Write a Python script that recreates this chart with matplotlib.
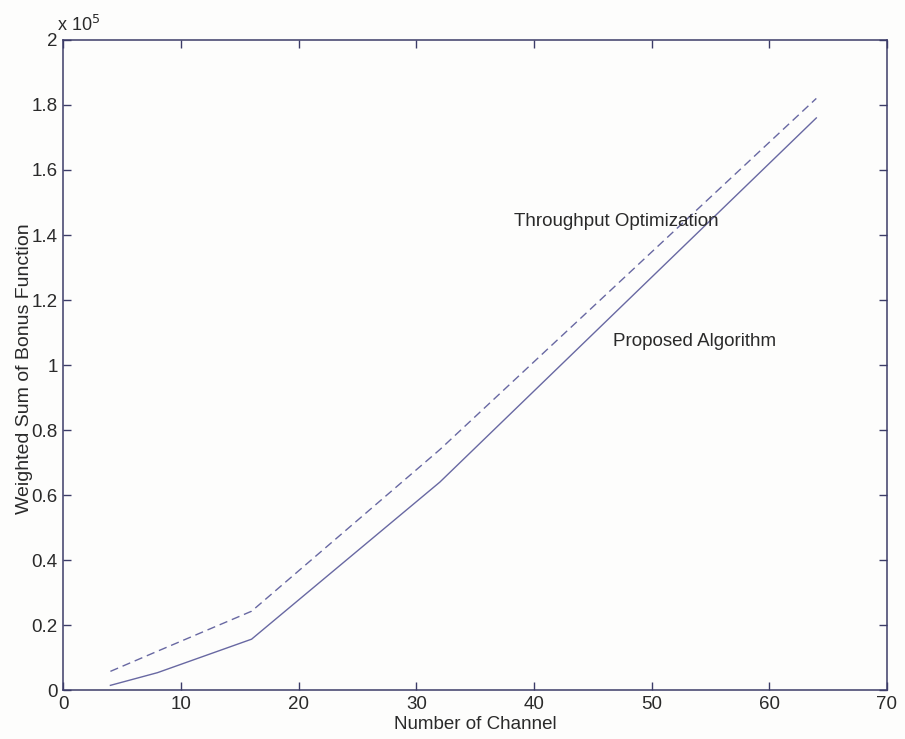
import matplotlib
matplotlib.use("Agg")
import matplotlib.pyplot as plt
from matplotlib.ticker import FuncFormatter

# Number of channels and weighted bonus-function sums
channels = [4, 8, 16, 32, 64]
proposed = [1500, 5400, 15700, 64000, 176000]
throughput_opt = [5800, 12000, 24300, 74000, 182000]

x_ticks = [0, 10, 20, 30, 40, 50, 60, 70]
y_ticks = [0, 20000, 40000, 60000, 80000, 100000, 120000, 140000, 160000, 180000, 200000]

line_color = "#6868a2"
axis_color = "#3c3c68"
text_color = "#2a2a2a"

plt.rcParams["font.family"] = ["Liberation Sans", "DejaVu Sans"]

fig = plt.figure(figsize=(9.05, 7.39), dpi=100, facecolor="#fdfdfc")
ax = fig.add_axes([0.070, 0.066, 0.910, 0.880])
ax.set_facecolor("#fdfdfc")

ax.plot(channels, proposed, color=line_color, lw=1.0, solid_joinstyle="miter")
ax.plot(channels, throughput_opt, color=line_color, lw=1.0, dashes=(6, 3.5))

ax.set_xlim(0, 70)
ax.set_ylim(0, 200000)
ax.set_xticks(x_ticks)
ax.set_yticks(y_ticks)
ax.yaxis.set_major_formatter(FuncFormatter(lambda v, p: "%g" % (v / 1e5)))

for s in ax.spines.values():
    s.set_color(axis_color)
    s.set_linewidth(1.1)
ax.tick_params(direction="in", length=6, width=1.0, color=axis_color,
               top=True, right=True, labelsize=13.5, labelcolor=text_color, pad=4)

ax.set_xlabel("Number of Channel", fontsize=13.5, color=text_color, labelpad=2)
ax.set_ylabel("Weighted Sum of Bonus Function", fontsize=14, color=text_color)
ax.yaxis.set_label_coords(-0.037, 0.495)

ax.text(-0.008, 1.008, "x 10$^5$", transform=ax.transAxes, fontsize=13,
        color=text_color, ha="left", va="bottom")

ax.text(38.3, 144000, "Throughput Optimization", fontsize=13.5, color=text_color,
        ha="left", va="center")
ax.text(46.7, 107200, "Proposed Algorithm", fontsize=13.5, color=text_color,
        ha="left", va="center")

fig.savefig("out.png", dpi=100, facecolor=fig.get_facecolor())
